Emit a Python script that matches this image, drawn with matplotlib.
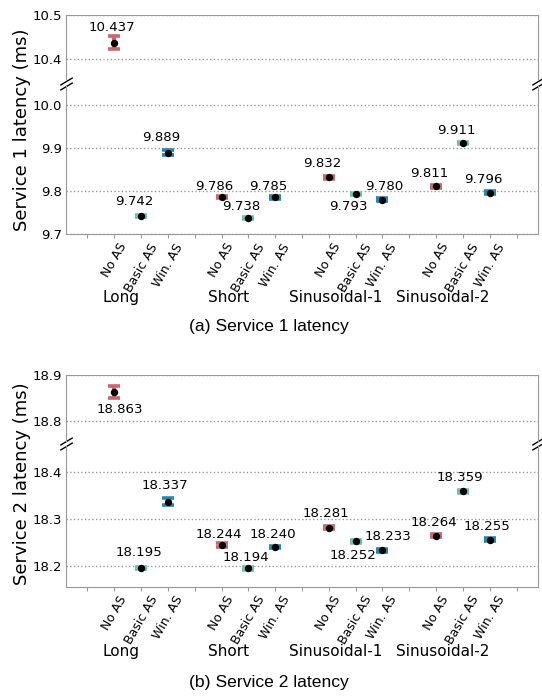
import numpy as np
import matplotlib.pyplot as plt
from matplotlib.transforms import blended_transform_factory

# data
groups = ['Long', 'Short', 'Sinusoidal-1', 'Sinusoidal-2']
modes = ['No AS', 'Basic AS', 'Win. AS']
colors = ['#cc6670', '#6cc4b0', '#1f8bb0']

s1_mean = [10.437, 9.742, 9.889, 9.786, 9.738, 9.785, 9.832, 9.793, 9.780, 9.811, 9.911, 9.796]
s1_err = [0.015, 0.002, 0.006, 0.003, 0.002, 0.003, 0.003, 0.003, 0.003, 0.003, 0.002, 0.003]
s2_mean = [18.863, 18.195, 18.337, 18.244, 18.194, 18.240, 18.281, 18.252, 18.233, 18.264, 18.359, 18.255]
s2_err = [0.013, 0.002, 0.008, 0.004, 0.003, 0.003, 0.003, 0.003, 0.003, 0.003, 0.003, 0.003]

# label placement (pixels above/below the point, x shift in data units)
s1_dy = [15, 14, 15, 11, 11, 11, 14, -13, 13, 13, 13, 13]
s2_dy = [-18, 15, 16, 11, 11, 12, 14, -14, 14, 13, 14, 13]
s1_dx = [-0.97] * 8 + [-0.66] + [-0.97] * 3
s2_dx = [-0.66] + [-0.97] * 7 + [-0.66] + [-0.97] * 3

W, H = 542, 696
fig = plt.figure(figsize=(W / 100, H / 100), dpi=100)

pos = np.array([4 * g + m + 1 for g in range(4) for m in range(3)])
GRAY = '#999999'


def add_ax(top, bottom):
    return fig.add_axes([66 / W, 1 - bottom / H, 472 / W, (bottom - top) / H])


def panel(tops, ylims, yticks, means, errs, dy, dx, ylabel, ylab_y, grp_y, caption, cap_y):
    ax_t = add_ax(*tops[0])
    ax_b = add_ax(*tops[1])
    for ax, lim, tk in zip([ax_t, ax_b], ylims, yticks):
        for m in range(3):
            idx = np.arange(m, 12, 3)
            ax.errorbar(pos[idx], np.array(means)[idx], yerr=np.array(errs)[idx],
                        fmt='o', color='k', markersize=4.3, ecolor=colors[m],
                        elinewidth=3, capsize=4, capthick=2.6)
        ax.set_xlim(-0.8, 16.8)
        ax.set_ylim(*lim)
        ax.set_yticks(tk)
        ax.set_yticklabels(['%.1f' % t for t in tk])
        ax.yaxis.grid(True, linestyle=':', color=GRAY, linewidth=1)
        ax.set_axisbelow(True)
        ax.tick_params(axis='y', length=0, pad=3, labelsize=9.5)
        for s in ax.spines.values():
            s.set_color(GRAY)
    ax_t.spines['bottom'].set_visible(False)
    ax_t.tick_params(axis='x', bottom=False, labelbottom=False)
    ax_b.spines['top'].set_visible(False)
    ticks = np.arange(0, 17)
    labs = []
    for t in ticks:
        labs.append(modes[(t - 1) % 4] if t % 4 != 0 else '')
    ax_b.set_xticks(ticks)
    ax_b.set_xticklabels(labs, rotation=60, fontsize=9)
    ax_b.tick_params(axis='x', length=3, color=GRAY, pad=2)

    # break marks
    kw = dict(marker=[(-1, -0.6), (1, 0.6)], markersize=9, linestyle='none',
              color='k', mec='k', mew=1, clip_on=False)
    ax_t.plot([0, 1], [0, 0], transform=ax_t.transAxes, **kw)
    ax_b.plot([0, 1], [1, 1], transform=ax_b.transAxes, **kw)

    for i, v in enumerate(means):
        ax = ax_t if v > ylims[0][0] else ax_b
        ax.annotate('%.3f' % v, (pos[i] + dx[i], v), xytext=(0, dy[i]),
                    textcoords='offset pixels', ha='left', va='center', fontsize=9.6)

    tr = blended_transform_factory(ax_b.transData, fig.transFigure)
    for g, name in enumerate(groups):
        ax_b.text(4 * g + 2 - 0.75, 1 - grp_y / H, name, transform=tr,
                  ha='center', va='center', fontsize=11)

    fig.text(22 / W, 1 - ylab_y / H, ylabel, rotation=90, ha='center', va='center', fontsize=13)
    fig.text(0.497, 1 - cap_y / H, caption, ha='center', va='center',
             fontsize=12.6, family='Liberation Sans')


panel([(15, 80.5), (85.6, 234)], [(10.35, 10.5), (9.7, 10.045)],
      [[10.4, 10.5], [9.7, 9.8, 9.9, 10.0]], s1_mean, s1_err, s1_dy, s1_dx,
      'Service 1 latency (ms)', 130, 298, '(a) Service 1 latency', 326)
panel([(375, 441), (446.3, 586.7)], [(18.755, 18.9), (18.155, 18.455)],
      [[18.8, 18.9], [18.2, 18.3, 18.4]], s2_mean, s2_err, s2_dy, s2_dx,
      'Service 2 latency (ms)', 484, 651.7, '(b) Service 2 latency', 682)

fig.savefig('out.png', dpi=100)
